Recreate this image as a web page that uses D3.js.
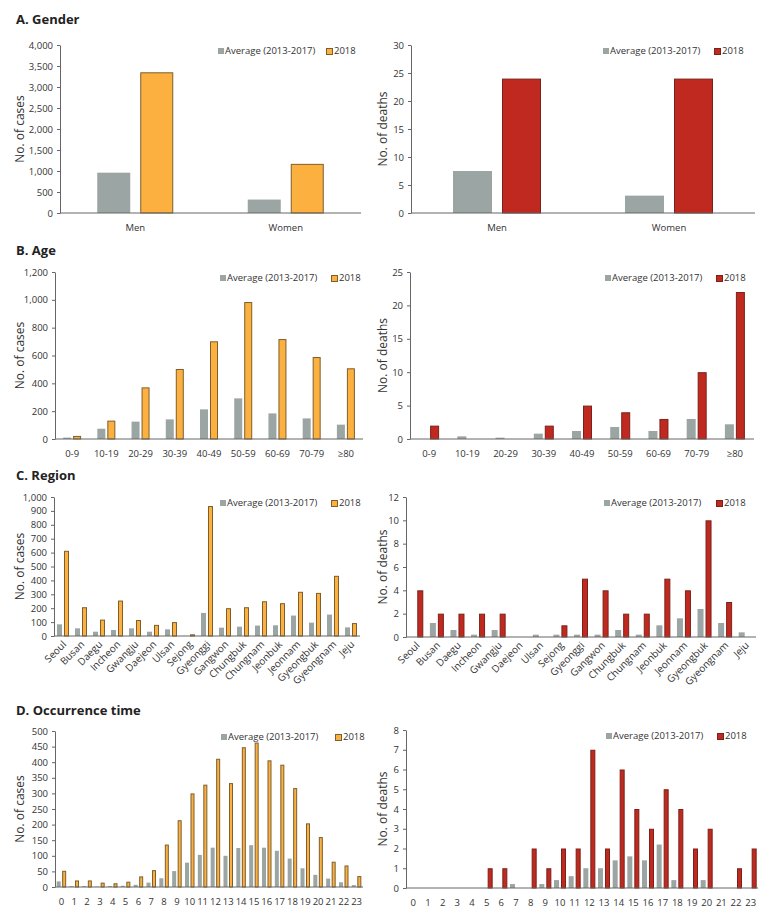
<!DOCTYPE html>
<html>
<head>
<meta charset="utf-8">
<script src="https://cdn.jsdelivr.net/npm/d3@7"></script>
<style>
  body { margin: 0; background: #fff; }
  svg text { font-family: "Open Sans", "Noto Sans", sans-serif; fill: #333; }
  .title { font-weight: bold; font-size: 13px; fill: #222; }
  .tick text { font-size: 9.5px; }
  .ylabel { font-size: 12px; }
  .legend text { font-size: 9.5px; }
</style>
</head>
<body>
<div id="chart"></div>
<script>
// categories
const genders = ['Men', 'Women']
const ages = ['0-9', '10-19', '20-29', '30-39', '40-49', '50-59', '60-69', '70-79', '\u226580']
const regions = ['Seoul', 'Busan', 'Daegu', 'Incheon', 'Gwangju', 'Daejeon', 'Ulsan', 'Sejong', 'Gyeonggi',
  'Gangwon', 'Chungbuk', 'Chungnam', 'Jeonbuk', 'Jeonnam', 'Gyeongbuk', 'Gyeongnam', 'Jeju']
const hours = d3.range(0, 24).map(String)

// A. gender
const genderCasesAvg = [960, 320]
const genderCases2018 = [3350, 1170]
const genderDeathsAvg = [7.5, 3.1]
const genderDeaths2018 = [24, 24]

// B. age
const ageCasesAvg = [10, 74, 125, 141, 213, 292, 184, 148, 103]
const ageCases2018 = [22, 132, 371, 503, 702, 984, 718, 589, 508]
const ageDeathsAvg = [0, 0.4, 0.2, 0.8, 1.2, 1.8, 1.2, 3.0, 2.2]
const ageDeaths2018 = [2, 0, 0, 2, 5, 4, 3, 10, 22]

// C. region
const regionCasesAvg = [84, 55, 31, 43, 55, 31, 48, 1, 166, 60, 67, 75, 77, 147, 96, 154, 62]
const regionCases2018 = [613, 207, 118, 255, 115, 80, 100, 12, 935, 200, 207, 250, 236, 318, 310, 433, 93]
const regionDeathsAvg = [0, 1.2, 0.6, 0.2, 0.6, 0, 0.2, 0.2, 0.2, 0.2, 0.6, 0.2, 1.0, 1.6, 2.4, 1.2, 0.4]
const regionDeaths2018 = [4, 2, 2, 2, 2, 0, 0, 1, 5, 4, 2, 2, 5, 4, 10, 3, 0]

// D. occurrence time
const hourCasesAvg = [18, 3, 3, 1, 3, 4, 7, 14, 28, 51, 78, 103, 126, 100, 125, 134, 126, 116, 91, 60, 39, 27, 15, 6]
const hourCases2018 = [52, 21, 21, 14, 12, 17, 34, 54, 136, 214, 300, 328, 411, 333, 448, 463, 406, 392, 317, 204, 160, 81, 69, 35]
const hourDeathsAvg = [0, 0, 0, 0, 0, 0, 0, 0.2, 0, 0.2, 0.4, 0.6, 1.0, 1.0, 1.4, 1.6, 1.4, 2.2, 0.4, 0, 0.4, 0, 0, 0]
const hourDeaths2018 = [0, 0, 0, 0, 0, 1, 1, 0, 2, 1, 2, 2, 7, 2, 6, 4, 3, 5, 4, 2, 3, 0, 1, 2]

const gray = '#9ba5a3'
const orange = '#fbb040', orangeLine = '#7d5f2e'
const red = '#c0291f', redLine = '#7a2219'

const W = 771, H = 917
const svg = d3.select('#chart').append('svg').attr('width', W).attr('height', H)

const titles = [
  {text: 'A. Gender', y: 24},
  {text: 'B. Age', y: 255},
  {text: 'C. Region', y: 480},
  {text: 'D. Occurrence time', y: 715}
]
svg.selectAll('.title').data(titles).enter().append('text').classed('title', true)
  .attr('x', 16).attr('y', d => d.y).text(d => d.text)

const panels = [
  {cats: genders, avg: genderCasesAvg, cur: genderCases2018, max: 4000, step: 500, label: 'No. of cases',
    l: 60, r: 361, t: 45, b: 213, barW: 33, gap: 10, col: orange, line: orangeLine, labX: 20, legG: 143, legC: 35},
  {cats: genders, avg: genderDeathsAvg, cur: genderDeaths2018, max: 30, step: 5, label: 'No. of deaths',
    l: 411, r: 755, t: 45, b: 213, barW: 39, gap: 10, col: red, line: redLine, labX: 383, legG: 152, legC: 41},
  {cats: ages, avg: ageCasesAvg, cur: ageCases2018, max: 1200, step: 200, label: 'No. of cases',
    l: 55, r: 363, t: 272, b: 439, barW: 8, gap: 2, col: orange, line: orangeLine, labX: 20, legG: 143, legC: 32},
  {cats: ages, avg: ageDeathsAvg, cur: ageDeaths2018, max: 25, step: 5, label: 'No. of deaths',
    l: 410, r: 754, t: 272, b: 439, barW: 9, gap: 2, col: red, line: redLine, labX: 383, legG: 149, legC: 38},
  {cats: regions, avg: regionCasesAvg, cur: regionCases2018, max: 1000, step: 100, label: 'No. of cases',
    l: 54, r: 360, t: 497, b: 636, barW: 5, gap: 2, col: orange, line: orangeLine, labX: 20, legG: 140, legC: 29, rotate: true},
  {cats: regions, avg: regionDeathsAvg, cur: regionDeaths2018, max: 12, step: 2, label: 'No. of deaths',
    l: 406, r: 756, t: 497, b: 637, barW: 6, gap: 2, col: red, line: redLine, labX: 383, legG: 152, legC: 40, rotate: true},
  {cats: hours, avg: hourCasesAvg, cur: hourCases2018, max: 500, step: 50, label: 'No. of cases',
    l: 55, r: 363, t: 731, b: 887, barW: 4, gap: 1.5, col: orange, line: orangeLine, labX: 20, legG: 142, legC: 28},
  {cats: hours, avg: hourDeathsAvg, cur: hourDeaths2018, max: 8, step: 1, label: 'No. of deaths',
    l: 406, r: 758, t: 730, b: 888, barW: 5, gap: 2, col: red, line: redLine, labX: 383, legG: 152, legC: 41}
]

panels.forEach(drawPanel)

function drawPanel (p) {
  let x = d3.scaleBand().domain(p.cats).range([p.l, p.r])
  let y = d3.scaleLinear().domain([0, p.max]).range([p.b, p.t])
  let g = svg.append('g')
  let rows = p.cats.map((c, i) => ({cat: c, avg: p.avg[i], cur: p.cur[i]}))

  // y axis
  let yAxis = g.append('g').attr('transform', `translate(${p.l},0)`)
    .call(d3.axisLeft(y).tickValues(d3.range(0, p.max + p.step / 2, p.step))
      .tickFormat(d3.format(',')).tickSizeInner(3).tickSizeOuter(0).tickPadding(4))
  yAxis.selectAll('path, line').attr('stroke', '#666')

  // bars
  let grp = g.selectAll('.grp').data(rows).enter().append('g')
    .attr('transform', d => `translate(${x(d.cat) + x.bandwidth() / 2},0)`)
  grp.append('rect')
    .attr('x', -p.gap / 2 - p.barW).attr('width', p.barW)
    .attr('y', d => y(d.avg)).attr('height', d => p.b - y(d.avg))
    .attr('fill', gray)
  grp.filter(d => d.cur > 0).append('rect')
    .attr('x', p.gap / 2 + 0.5).attr('width', p.barW - 1)
    .attr('y', d => y(d.cur) + 0.5).attr('height', d => p.b - y(d.cur) - 0.5)
    .attr('fill', p.col).attr('stroke', p.line).attr('stroke-width', 1)

  // x axis
  let xAxis = g.append('g').attr('transform', `translate(0,${p.b})`)
    .call(d3.axisBottom(x).tickSize(0).tickPadding(8))
  xAxis.select('path').attr('stroke', '#666').attr('d', `M${p.l},0H${p.r}`)
  if (p.rotate) {
    xAxis.selectAll('text').attr('text-anchor', 'end').attr('dy', null)
      .attr('transform', 'translate(4,9) rotate(-45)').attr('y', 0).style('font-size', '10px')
  } else {
    xAxis.selectAll('text').attr('dy', '1em')
  }

  // y label
  g.append('text').classed('ylabel', true)
    .attr('transform', `translate(${p.labX},${(p.t + p.b) / 2}) rotate(-90)`)
    .attr('text-anchor', 'middle').attr('dy', '0.35em').text(p.label)

  // legend
  let leg = g.append('g').classed('legend', true).attr('transform', `translate(0,${p.t + 6})`)
  leg.append('rect').attr('x', p.r - p.legG).attr('y', -3).attr('width', 6).attr('height', 6).attr('fill', gray)
  leg.append('text').attr('x', p.r - p.legG + 7).attr('dy', '0.35em').text('Average (2013-2017)')
  leg.append('rect').attr('x', p.r - p.legC + 0.5).attr('y', -2.5).attr('width', 6).attr('height', 6)
    .attr('fill', p.col).attr('stroke', p.line).attr('stroke-width', 1)
  leg.append('text').attr('x', p.r - p.legC + 8).attr('dy', '0.35em').text('2018')
}
</script>
</body>
</html>
